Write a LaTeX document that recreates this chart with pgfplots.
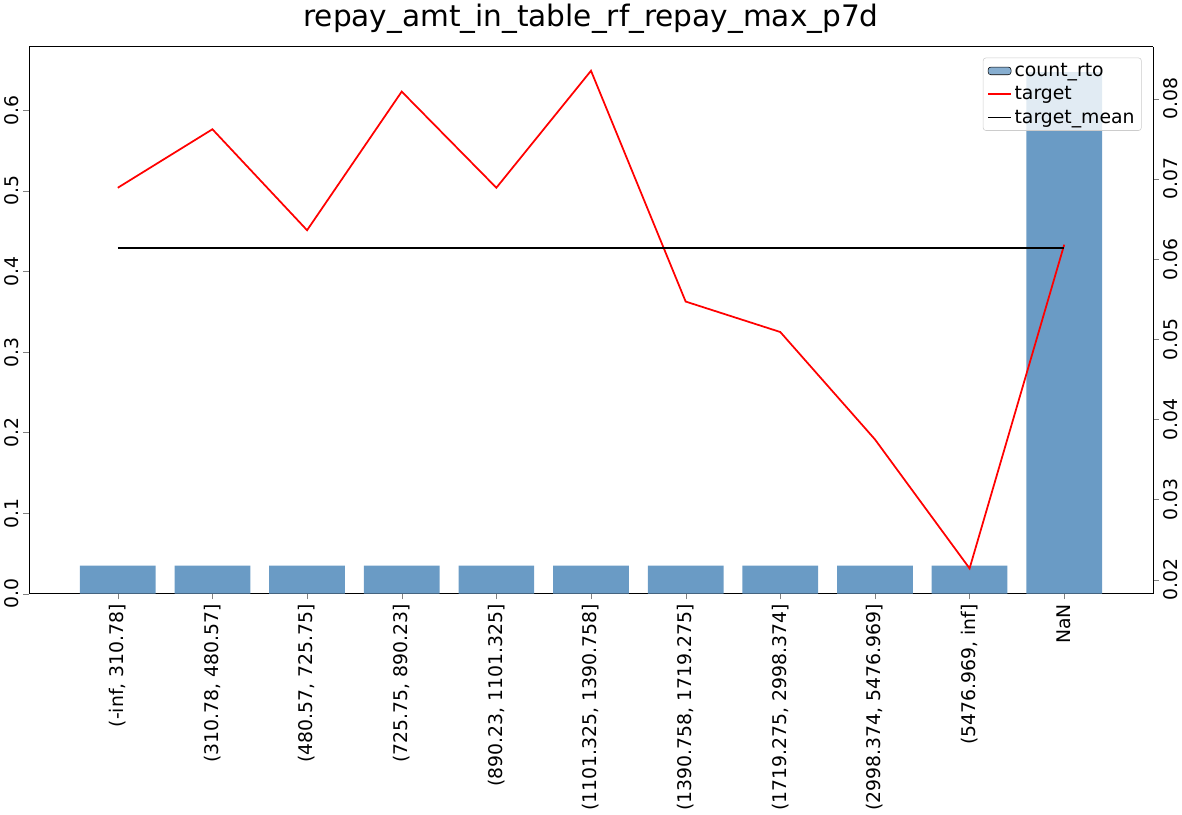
\documentclass[border=0pt]{standalone}
\usepackage{pgfplots}
\pgfplotsset{compat=1.18}
\usepackage{fontspec}
\setmainfont{DejaVu Sans}
\definecolor{barc}{HTML}{6A9BC5}
\begin{document}
\begin{tikzpicture}
\pgfplotsset{every axis/.append style={width=836pt,height=407pt,scale only axis,
  xmin=-0.936,xmax=10.936, tick label style={font=\fontsize{14}{16}\selectfont},
  /pgf/number format/assume math mode=true}}
\begin{axis}[ymin=0,ymax=0.679,
  xtick={0,...,10}, xtick pos=bottom,
  xticklabels={{(-inf, 310.78]},{(310.78, 480.57]},{(480.57, 725.75]},{(725.75, 890.23]},{(890.23, 1101.325]},{(1101.325, 1390.758]},{(1390.758, 1719.275]},{(1719.275, 2998.374]},{(2998.374, 5476.969]},{(5476.969, inf]},NaN},
  x tick label style={rotate=90,anchor=east},
  y tick label style={rotate=90,anchor=south},
  ytick={0,0.1,...,0.6},
  yticklabel style={/pgf/number format/fixed,/pgf/number format/precision=1,/pgf/number format/fixed zerofill},
  axis y line*=left, tick align=outside,
  title={repay\_amt\_in\_table\_rf\_repay\_max\_p7d},
  title style={font=\fontsize{22}{26}\selectfont}]
\addplot[ybar,bar width=0.8,fill=barc,draw=none,bar shift=0pt] coordinates {
(0,0.035)(1,0.035)(2,0.035)(3,0.035)(4,0.035)(5,0.035)(6,0.035)(7,0.035)(8,0.035)(9,0.035)(10,0.6475)};
\end{axis}
\begin{axis}[ymin=0.01824,ymax=0.0865,
  axis y line*=right, axis x line=none, tick align=outside, scaled y ticks=false,
  ytick={0.02,0.03,...,0.08},
  yticklabel style={rotate=90,anchor=north,/pgf/number format/fixed,/pgf/number format/precision=2,/pgf/number format/fixed zerofill},
  legend style={at={(0.99,0.98)},anchor=north east,font=\fontsize{14}{16}\selectfont,draw=gray!40,rounded corners=2pt,fill opacity=0.8,text opacity=1,row sep=2pt},
  legend cell align=left]
\addlegendimage{area legend,fill=barc,draw=none}
\addlegendentry{count\_rto}
\addlegendimage{red,line width=1.3pt}
\addlegendentry{target}
\addlegendimage{black,line width=1.3pt}
\addlegendentry{target\_mean}
\addplot[red,line width=1.3pt,forget plot] coordinates {
(0,0.0689)(1,0.0762)(2,0.0636)(3,0.0809)(4,0.0689)(5,0.0835)(6,0.0547)(7,0.0509)(8,0.0375)(9,0.0214)(10,0.0618)};
\addplot[black,line width=1.3pt,forget plot] coordinates {(0,0.0614)(10,0.0614)};
\end{axis}
\end{tikzpicture}
\end{document}
